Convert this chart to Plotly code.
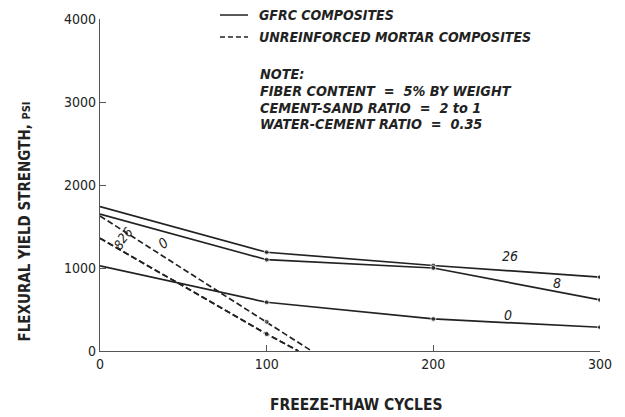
import plotly.graph_objects as go

cycles = [0, 100, 200, 300]
gfrc_26 = [1740, 1190, 1030, 890]
gfrc_8 = [1650, 1100, 1000, 615]
gfrc_0 = [1025, 587, 386, 286]

mortar_cycles_0 = [0, 100, 127]
mortar_0 = [1627, 353, 0]
mortar_cycles_8 = [0, 100, 119]
mortar_8 = [1358, 205, 0]
mortar_26 = [1358, 205, 0]

x_ticks = [0, 100, 200, 300]
y_ticks = [0, 1000, 2000, 3000, 4000]

note_lines = ["NOTE:", "FIBER CONTENT  =  5% BY WEIGHT",
              "CEMENT-SAND RATIO  =  2 to 1", "WATER-CEMENT RATIO  =  0.35"]

FONT = "DejaVu Sans Condensed, Liberation Sans Narrow, Liberation Sans, sans-serif"
INK = "#222"

fig = go.Figure()
line_w = 1.7
for ys in (gfrc_26, gfrc_8, gfrc_0):
    fig.add_trace(go.Scatter(x=cycles, y=ys, mode="lines+markers",
                             line=dict(color=INK, width=line_w),
                             marker=dict(size=[0, 5, 5, 5], color=INK),
                             showlegend=False))
for xs, ys in ((mortar_cycles_0, mortar_0), (mortar_cycles_8, mortar_8), (mortar_cycles_8, mortar_26)):
    fig.add_trace(go.Scatter(x=xs, y=ys, mode="lines+markers",
                             line=dict(color=INK, width=line_w, dash="6px,3px"),
                             marker=dict(size=[0, 5, 0], color=INK),
                             showlegend=False))

def lab(x, y, t, ang=0, size=14):
    fig.add_annotation(x=x, y=y, text="<i>" + t + "</i>", showarrow=False,
                       textangle=ang, font=dict(family=FONT, size=size, color=INK))

lab(246, 1150, "26")
lab(274, 819, "8")
lab(245, 434, "0")
lab(38, 1301, "0", -40)
lab(15, 1390, "26", -50, 13)
lab(11, 1275, "8", -50, 13)

# legend samples
fig.add_shape(type="line", xref="paper", yref="paper", x0=0.24, x1=0.296, y0=1.012, y1=1.012,
              line=dict(color=INK, width=1.5))
fig.add_shape(type="line", xref="paper", yref="paper", x0=0.24, x1=0.296, y0=0.946, y1=0.946,
              line=dict(color=INK, width=1.5, dash="5px,3px"))
fig.add_annotation(xref="paper", yref="paper", x=0.314, y=1.012, xanchor="left", yanchor="middle",
                   text="<b><i>GFRC COMPOSITES</i></b>", showarrow=False,
                   font=dict(family=FONT, size=14, color=INK))
fig.add_annotation(xref="paper", yref="paper", x=0.314, y=0.946, xanchor="left", yanchor="middle",
                   text="<b><i>UNREINFORCED MORTAR COMPOSITES</i></b>", showarrow=False,
                   font=dict(family=FONT, size=14, color=INK))
note_py = [74, 91, 108, 124]
for t, py in zip(note_lines, note_py):
    fig.add_annotation(xref="paper", yref="paper", x=0.316, y=(351 - py) / 332,
                       xanchor="left", yanchor="middle", showarrow=False,
                       text="<b><i>" + t + "</i></b>",
                       font=dict(family=FONT, size=14.3, color=INK))

# axis titles
fig.add_annotation(xref="paper", yref="paper", x=-0.15, y=0.39, textangle=-90,
                   xanchor="center", yanchor="middle", showarrow=False,
                   text="<b>FLEXURAL YIELD STRENGTH, <span style='font-size:11px'>PSI</span></b>",
                   font=dict(family=FONT, size=15, color=INK))
fig.add_annotation(xref="paper", yref="paper", x=0.512, y=-0.163,
                   xanchor="center", yanchor="middle", showarrow=False,
                   text="<b>FREEZE-THAW CYCLES</b>",
                   font=dict(family=FONT, size=15.5, color=INK))

fig.update_layout(
    width=625, height=417,
    margin=dict(l=100, r=25, t=19, b=66),
    paper_bgcolor="white", plot_bgcolor="white",
    font=dict(family=FONT, size=14, color=INK),
    xaxis=dict(range=[0, 300], tickvals=x_ticks, ticks="inside", ticklen=6,
               tickcolor="#555", showline=True, linecolor="#555", linewidth=1.2,
               showgrid=False, zeroline=False, automargin=False,
               tickfont=dict(size=14)),
    yaxis=dict(range=[0, 4000], tickvals=y_ticks, ticks="inside", ticklen=6,
               tickcolor="#555", showline=True, linecolor="#555", linewidth=1.2,
               showgrid=False, zeroline=False, automargin=False,
               tickfont=dict(size=14)),
)

fig.write_html("out.html", config={"displayModeBar": False},
               post_script="document.body.style.margin='0';")
